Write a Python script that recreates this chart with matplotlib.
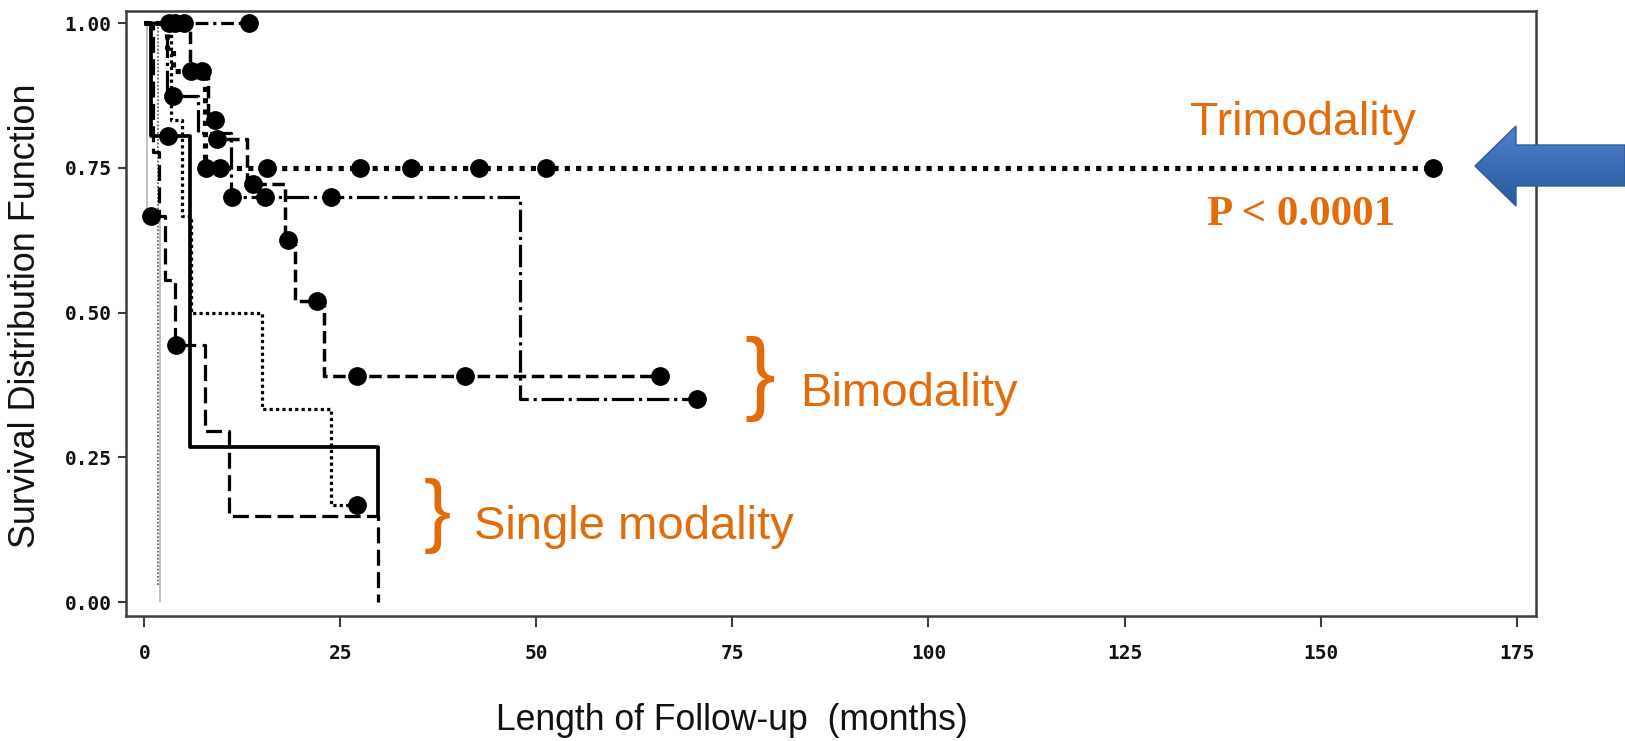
import matplotlib
matplotlib.use("Agg")
import matplotlib.pyplot as plt
import numpy as np
from matplotlib.patches import Polygon
from matplotlib.colors import LinearSegmentedColormap

# ---------------- data ----------------
x_ticks = [0, 25, 50, 75, 100, 125, 150, 175]
x_tick_labels = ["0", "25", "50", "75", "100", "125", "150", "175"]
y_ticks = [0.0, 0.25, 0.50, 0.75, 1.00]
y_tick_labels = ["0.00", "0.25", "0.50", "0.75", "1.00"]

# Trimodality (thick square-dotted)
tri_times = [2.9, 3.6, 7.75]
tri_surv = [0.958, 0.917, 0.75]
tri_end = 164.3
tri_cens = [7.3, 7.9, 9.6, 15.7, 27.5, 34.0, 42.7, 51.2, 164.3]

# Bimodality group A (dash-dot, never drops)
bia_times = []
bia_surv = []
bia_end = 13.3
bia_cens = [3.1, 3.9, 5.0, 13.3]

# Bimodality group B (long dash-dot)
bib_times = [2.9, 6.9, 11.0, 47.9]
bib_surv = [0.875, 0.81, 0.70, 0.35]
bib_end = 70.5
bib_cens = [3.7, 11.2, 15.4, 23.8, 70.5]

# Bimodality group C (dashed)
bic_times = [5.85, 8.1, 9.1, 13.1, 18.0, 19.2, 22.9]
bic_surv = [0.917, 0.833, 0.80, 0.722, 0.625, 0.52, 0.39]
bic_end = 65.8
bic_cens = [5.9, 9.0, 9.3, 13.9, 18.3, 22.0, 27.1, 40.9, 65.8]

# Single modality: solid
sgs_times = [0.85, 5.8, 29.8]
sgs_surv = [0.805, 0.268, 0.147]
sgs_end = 29.8
sgs_cens = [3.0]

# Single modality: long dashed
sgd_times = [1.1, 1.9, 2.65, 3.9, 7.8, 10.8, 29.8]
sgd_surv = [0.778, 0.667, 0.556, 0.444, 0.296, 0.148, 0.0]
sgd_end = 29.8
sgd_cens = [4.1]

# Single modality: fine dotted
sgf_times = [3.4, 4.8, 5.9, 15.0, 23.8]
sgf_surv = [0.833, 0.667, 0.5, 0.333, 0.167]
sgf_end = 27.1
sgf_cens = [27.1]

# Single modality: thin grey dotted
sgt_times = [1.8]
sgt_surv = [0.03]
sgt_end = 1.8
sgt_cens = []

# Single modality: thin light grey
sgl_times = [0.4, 2.0]
sgl_surv = [0.667, 0.0]
sgl_end = 2.0
sgl_cens = [0.8]

# ---------------- figure ----------------
W, H = 1625, 741
fig = plt.figure(figsize=(W / 100, H / 100), dpi=100)
fig.patch.set_facecolor("white")
ax = fig.add_axes([126 / W, 1 - 616 / H, 1410 / W, 605 / H])

def surv_at(t, times, surv):
    idx = np.searchsorted(np.asarray(times, float), t, side="right")
    return 1.0 if idx == 0 else surv[idx - 1]

def km(times, surv, end, cens, color="black", lw=2.2, ls="-", z=3, ms=12.5):
    xs = [0.0] + list(times) + [end]
    ys = [1.0] + list(surv) + [surv[-1] if len(surv) else 1.0]
    ln, = ax.step(xs, ys, where="post", color=color, lw=lw, zorder=z,
                  solid_capstyle="butt", dash_capstyle="butt")
    ln.set_linestyle(ls)
    if len(cens):
        cy = [surv_at(c, times, surv) for c in cens]
        ax.plot(cens, cy, "o", color="black", ms=ms, zorder=6, mec="black")

km(sgl_times, sgl_surv, sgl_end, sgl_cens, color="#b5b5b5", lw=1.2, ls="-", z=2)
km(sgt_times, sgt_surv, sgt_end, sgt_cens, color="#666666", lw=1.3, ls=(0, (1, 1)), z=2)
km(sgf_times, sgf_surv, sgf_end, sgf_cens, lw=2.3, ls=(0, (1, 1)), z=3)
km(sgd_times, sgd_surv, sgd_end, sgd_cens, lw=2.3, ls=(0, (5, 2)), z=3)
km(sgs_times, sgs_surv, sgs_end, sgs_cens, lw=2.7, ls="-", z=4)
km(bia_times, bia_surv, bia_end, bia_cens, lw=2.3, ls=(0, (4, 1.5, 1, 1.5)), z=3)
km(bib_times, bib_surv, bib_end, bib_cens, lw=2.3, ls=(0, (7, 1.5, 1, 1.5)), z=3)
km(bic_times, bic_surv, bic_end, bic_cens, lw=2.5, ls=(0, (3.6, 1.6)), z=3)
km(tri_times, tri_surv, tri_end, tri_cens, lw=3.7, ls=(0, (1, 1.2)), z=4)

# axes styling
px_per_month = 7.842
ax.set_xlim((126 - 144.3) / px_per_month, (1536 - 144.3) / px_per_month)
ax.set_ylim((602 - 616) / 578.7, 1 + (23.3 - 11) / 578.7)
ax.set_xticks(x_ticks)
ax.set_xticklabels(x_tick_labels)
ax.set_yticks(y_ticks)
ax.set_yticklabels(y_tick_labels)
for lab in ax.get_xticklabels() + ax.get_yticklabels():
    lab.set_fontfamily("DejaVu Sans Mono")
    lab.set_fontweight("bold")
    lab.set_fontsize(14)
    lab.set_color("#111111")
ax.tick_params(axis="x", direction="out", length=8, width=1.5, pad=12, color="#3c3c3c")
ax.tick_params(axis="y", direction="out", length=5.8, width=1.5, pad=4.5, color="#3c3c3c")
for sp in ax.spines.values():
    sp.set_color("#3c3c3c")
    sp.set_linewidth(1.8)

ax.set_xlabel("Length of Follow-up  (months)", fontsize=25.6,
              fontfamily="Liberation Sans", color="#111111")
ax.xaxis.set_label_coords((732 - 126) / 1410, (616 - 730) / 605)
ax.xaxis.label.set_verticalalignment("baseline")
ax.set_ylabel("Survival Distribution Function", fontsize=25.8,
              fontfamily="Liberation Sans", color="#111111")
ax.yaxis.set_label_coords((26 - 126) / 1410, (616 - 316) / 605)
ax.yaxis.label.set_verticalalignment("center")

# ---------------- overlay: annotations in pixel space ----------------
ov = fig.add_axes([0, 0, 1, 1], zorder=10)
ov.axis("off")
ov.patch.set_alpha(0)

orange = "#E36C0A"
ov.text(1190, 135, "Trimodality", fontsize=33.5, family="Liberation Sans",
        color=orange, ha="left", va="baseline")
ov.text(1207, 225, "P < 0.0001", fontsize=31, family="Liberation Serif",
        weight="bold", color=orange, ha="left", va="baseline")
ov.text(800, 406, "Bimodality", fontsize=34, family="Liberation Sans",
        color=orange, ha="left", va="baseline")
ov.text(744, 403, "}", fontsize=66, family="Liberation Sans",
        color=orange, ha="left", va="baseline")
ov.text(474, 539, "Single modality", fontsize=34, family="Liberation Sans",
        color=orange, ha="left", va="baseline")
ov.text(424, 537, "}", fontsize=59, family="Liberation Sans",
        color=orange, ha="left", va="baseline")

# blue arrow with vertical gradient
arrow_pts = [(1475, 166), (1516, 126), (1516, 145), (1625, 145),
             (1625, 186), (1516, 186), (1516, 206)]
poly = Polygon(arrow_pts, closed=True, facecolor="none",
               edgecolor="#2f5c98", lw=1.0, zorder=12)
ov.add_patch(poly)
grad = np.linspace(0, 1, 100).reshape(-1, 1)
cmap = LinearSegmentedColormap.from_list("blu", ["#4F83CC", "#3A6DB5", "#2B5899"])
im = ov.imshow(grad, cmap=cmap, extent=(1470, 1625, 208, 124), aspect="auto",
               zorder=11, interpolation="bilinear")
clip = Polygon(arrow_pts, closed=True, transform=ov.transData)
im.set_clip_path(clip)
ov.set_xlim(0, W)
ov.set_ylim(H, 0)

fig.savefig("out.png", dpi=100, facecolor="white")
